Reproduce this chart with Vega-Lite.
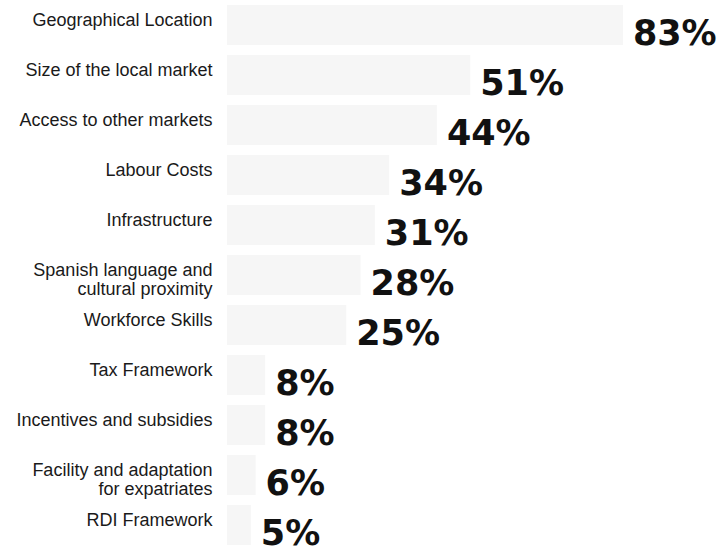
{
  "$schema": "https://vega.github.io/schema/vega-lite/v6.json",
  "width": 477,
  "height": 550,
  "padding": {"left": 15, "top": 0, "right": 0, "bottom": 0},
  "background": "white",
  "config": {"view": {"stroke": null}},
  "data": {
    "values": [
      {"factor": "Geographical Location", "share": 0.83},
      {"factor": "Size of the local market", "share": 0.51},
      {"factor": "Access to other markets", "share": 0.44},
      {"factor": "Labour Costs", "share": 0.34},
      {"factor": "Infrastructure", "share": 0.31},
      {"factor": "Spanish language and cultural proximity", "share": 0.28},
      {"factor": "Workforce Skills", "share": 0.25},
      {"factor": "Tax Framework", "share": 0.08},
      {"factor": "Incentives and subsidies", "share": 0.08},
      {"factor": "Facility and adaptation for expatriates", "share": 0.06},
      {"factor": "RDI Framework", "share": 0.05}
    ]
  },
  "encoding": {
    "y": {
      "field": "factor",
      "type": "nominal",
      "sort": null,
      "scale": {"paddingInner": 0.2, "paddingOuter": 0.1},
      "axis": {
        "title": null,
        "domain": false,
        "ticks": false,
        "labelPadding": 15,
        "labelFont": "Liberation Sans",
        "labelFontSize": 18,
        "labelColor": "#1a1a1a",
        "labelOffset": -4,
        "labelLimit": 0,
        "labelLineHeight": 19,
        "labelExpr": "datum.label == 'Spanish language and cultural proximity' ? ['Spanish language and', 'cultural proximity'] : datum.label == 'Facility and adaptation for expatriates' ? ['Facility and adaptation', 'for expatriates'] : datum.label"
      }
    },
    "x": {
      "field": "share",
      "type": "quantitative",
      "scale": {"domain": [0, 1]},
      "axis": null
    }
  },
  "layer": [
    {"mark": {"type": "bar", "color": "#f6f6f6"}},
    {
      "mark": {
        "type": "text",
        "align": "left",
        "baseline": "middle",
        "dx": 10,
        "dy": 9,
        "font": "DejaVu Sans",
        "fontWeight": "bold",
        "fontSize": 35,
        "color": "#111111"
      },
      "encoding": {"text": {"field": "share", "type": "quantitative", "format": ".0%"}}
    }
  ]
}
